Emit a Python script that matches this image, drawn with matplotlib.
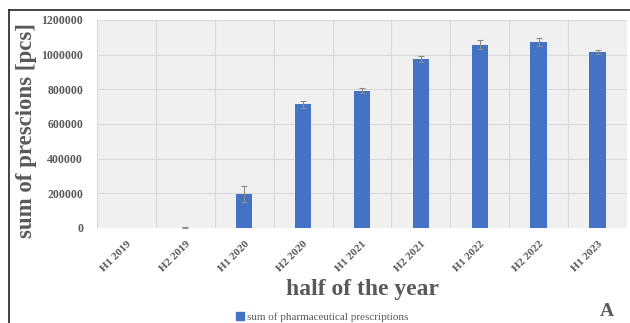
import numpy as np
import matplotlib.pyplot as plt
from matplotlib.lines import Line2D

halves = ['H1 2019', 'H2 2019', 'H1 2020', 'H2 2020', 'H1 2021',
          'H2 2021', 'H1 2022', 'H2 2022', 'H1 2023']
prescriptions = [0, 1500, 196000, 713000, 791000, 975000, 1057000, 1071000, 1014000]
errors = [np.nan, 1500, 44000, 22000, 15000, 20000, 25000, 23000, 11000]

plt.rcParams['font.family'] = ['Liberation Serif', 'DejaVu Serif']
grey = '#595959'

fig = plt.figure(figsize=(6.3, 3.23), dpi=100)
ax = fig.add_axes([97/630, 1 - 228/323, 530/630, 208/323])

x = np.arange(len(halves))
ax.bar(x, prescriptions, width=0.28, color='#4472C4', zorder=3,
       yerr=errors, error_kw=dict(ecolor='#8c8c8c', elinewidth=0.8, capsize=2, capthick=0.8))

ax.set_facecolor('#f0f0f0')
ax.set_xlim(-0.5, len(halves) - 0.5)
ax.set_ylim(0, 1200000)
ax.set_yticks(np.arange(0, 1200001, 200000))
ax.set_yticklabels([str(v) for v in range(0, 1200001, 200000)],
                   fontsize=8.5, fontweight='bold', color=grey)
ax.set_xticks(x)
ax.set_xticklabels(halves, rotation=45, ha='right', rotation_mode='anchor',
                   fontsize=8, fontweight='bold', color=grey)
ax.set_xticks(np.arange(-0.5, len(halves)), minor=True)
ax.tick_params(which='both', length=0)
ax.tick_params(axis='x', pad=8)
ax.tick_params(axis='y', pad=10)
ax.grid(axis='y', color='#d9d9d9', linewidth=0.8, zorder=0)
ax.grid(axis='x', which='minor', color='#d9d9d9', linewidth=0.8, zorder=0)
for s in ax.spines.values():
    s.set_visible(False)

fig.text(27/630, 1 - 131/323, 'sum of prescions [pcs]', rotation=90, ha='center', va='center',
         fontsize=16.5, fontweight='bold', color=grey)
fig.text(362/630, 1 - 289/323, 'half of the year', ha='center', va='center',
         fontsize=17, fontweight='bold', color=grey)
fig.text(607/630, 1 - 311/323, 'A', ha='center', va='center',
         fontsize=14, fontweight='bold', color=grey)

handle = Line2D([], [], marker='s', linestyle='none', color='#4472C4', markersize=5.5)
fig.legend([handle], ['sum of pharmaceutical prescriptions'], loc='center',
           bbox_to_anchor=(322/630, 1 - 317/323), frameon=False, fontsize=8,
           handlelength=0.8, handletextpad=0.2, labelcolor=grey, borderpad=0)

# frame lines
fig.add_artist(Line2D([9/630, 1], [1 - 10/323, 1 - 10/323], color='#222222', linewidth=1.2))
fig.add_artist(Line2D([9/630, 9/630], [1 - 10/323, 0], color='#222222', linewidth=1.2))

fig.savefig('out.png', dpi=100)
